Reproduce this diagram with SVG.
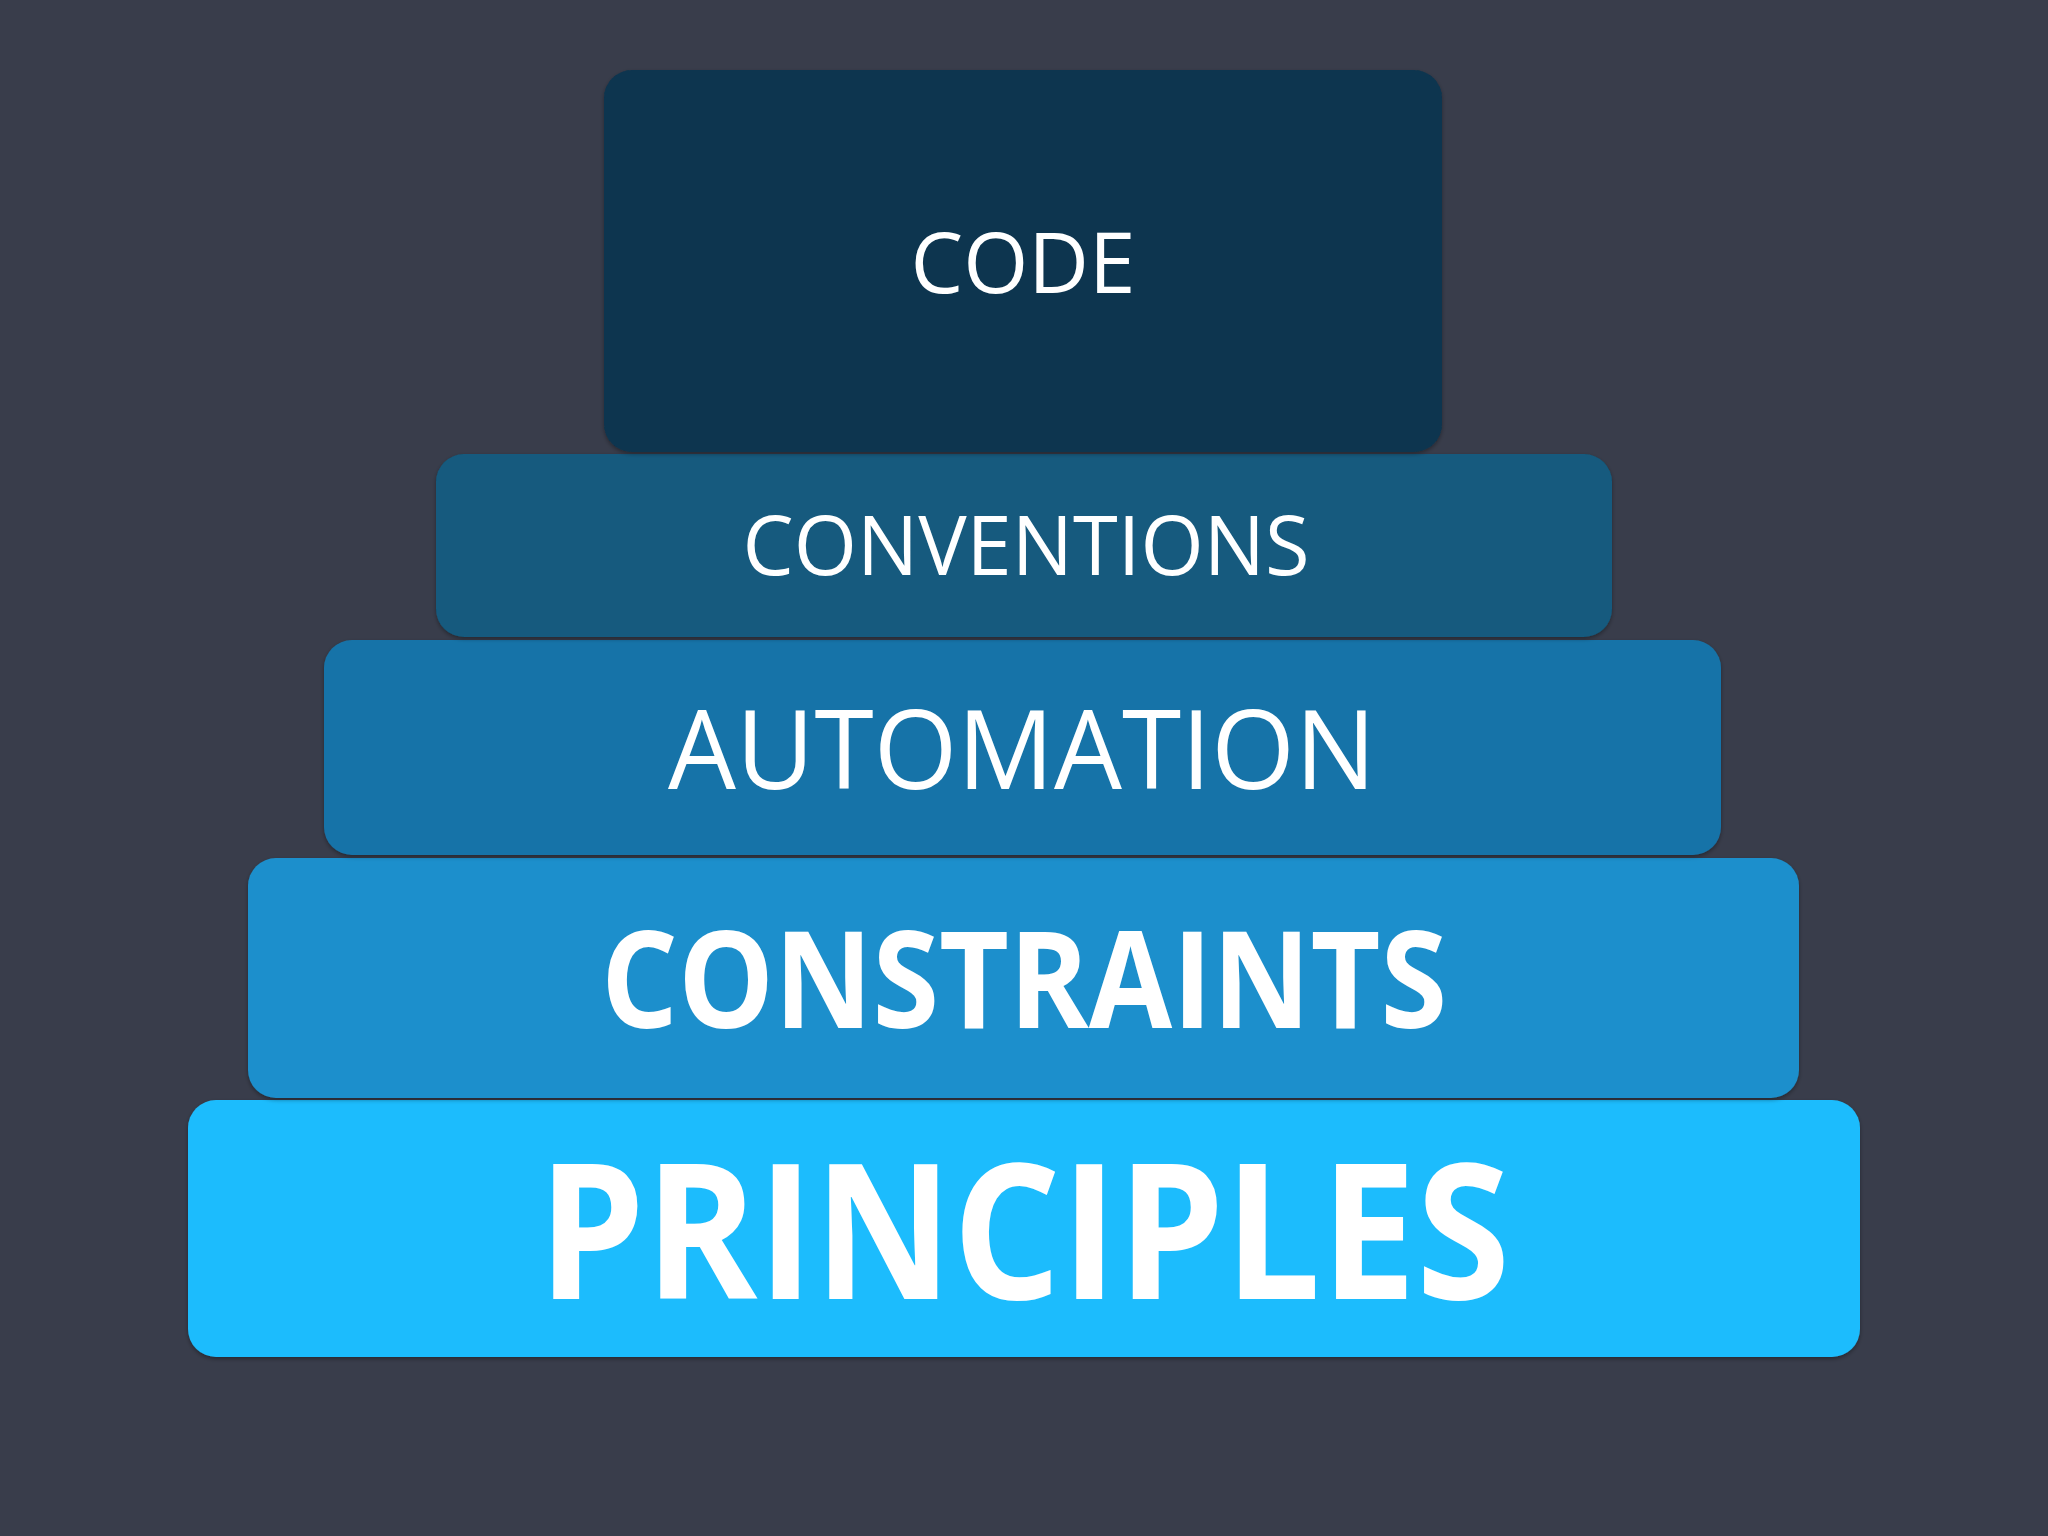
<svg xmlns="http://www.w3.org/2000/svg" width="2048" height="1536" viewBox="0 0 2048 1536">
<defs>
<filter id="sh" x="-5%" y="-5%" width="110%" height="115%">
<feDropShadow dx="0" dy="2" stdDeviation="2" flood-color="#000" flood-opacity="0.35"/>
</filter>
</defs>
<style>
.box{filter:url(#sh)}
.t{font-family:"Open Sans","Noto Sans","Liberation Sans",sans-serif;fill:#ffffff;text-anchor:middle}
.b{font-weight:bold}
</style>
<rect width="2048" height="1536" fill="#393d4b"/>
<g id="principles">
<rect class="box" x="188" y="1100" width="1672" height="257" rx="28" fill="#1fbcfd"/>
<text class="t b" x="1024" y="1299" font-size="188" textLength="972" lengthAdjust="spacingAndGlyphs">PRINCIPLES</text>
</g>
<g id="constraints">
<rect class="box" x="248" y="858" width="1551" height="240" rx="28" fill="#1c8fcc"/>
<text class="t b" x="1024" y="1028" font-size="134" textLength="846" lengthAdjust="spacingAndGlyphs">CONSTRAINTS</text>
</g>
<g id="automation">
<rect class="box" x="324" y="640" width="1397" height="215" rx="28" fill="#1773a8"/>
<text class="t" x="1022" y="789" font-size="110" textLength="708" lengthAdjust="spacingAndGlyphs">AUTOMATION</text>
</g>
<g id="conventions">
<rect class="box" x="436" y="454" width="1176" height="183" rx="28" fill="#135a7e"/>
<text class="t" x="1026" y="575" font-size="82" textLength="567" lengthAdjust="spacingAndGlyphs">CONVENTIONS</text>
</g>
<g id="code">
<rect class="box" x="604" y="70" width="838" height="382" rx="28" fill="#0a344f"/>
<text class="t" x="1023" y="293" font-size="84" textLength="225" lengthAdjust="spacingAndGlyphs">CODE</text>
</g>
<g id="connectors"/>
</svg>
